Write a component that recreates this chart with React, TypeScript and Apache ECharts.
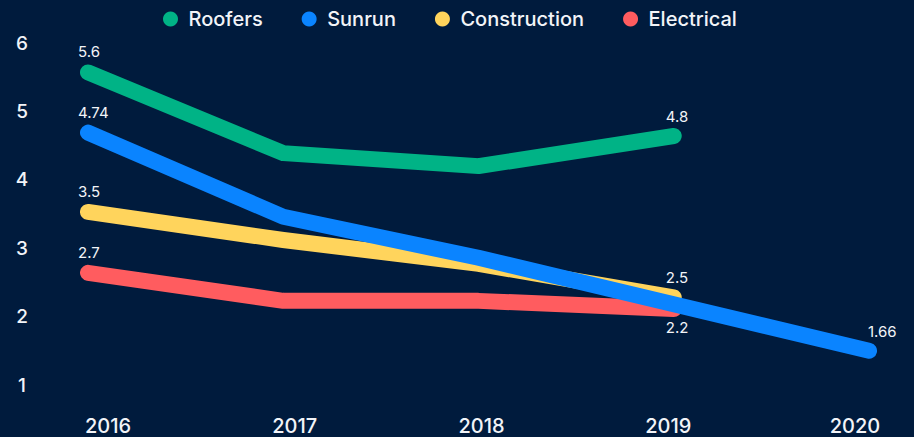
import React, { useEffect, useRef } from "react";
import * as echarts from "echarts";

const years = ["2016", "2017", "2018", "2019", "2020"];
const yTicks = [1, 2, 3, 4, 5, 6];

const roofers = [5.57, 4.39, 4.2, 4.64, null];
const sunrun = [4.69, 3.46, 2.86, 2.18, 1.5];
const construction = [3.53, 3.12, 2.77, 2.28, null];
const electrical = [2.64, 2.23, 2.23, 2.11, null];

const roofersLabels = ["5.6", "", "", "4.8", ""];
const sunrunLabels = ["4.74", "", "", "", "1.66"];
const constructionLabels = ["3.5", "", "", "2.5", ""];
const electricalLabels = ["2.7", "", "", "2.2", ""];

const FONT = "Inter, 'Noto Sans', sans-serif";
const TEXT = "#f2f4f8";

function buildData(values: (number | null)[], labels: string[], below: boolean[] = []) {
  return values.map((v, i) => {
    const txt = labels[i];
    if (!txt) return { value: v, label: { show: false } };
    const last = i > 0;
    return {
      value: v,
      label: {
        show: true,
        formatter: txt,
        position: below[i] ? "bottom" : "top",
        distance: below[i] ? 11 : last ? 12 : 13,
        align: "left",
        offset: [i === 0 ? -10 : i === 4 ? -1 : -8, 0],
        color: TEXT,
        fontSize: 15,
        fontFamily: FONT,
      },
    };
  });
}

export default function App() {
  const ref = useRef<HTMLDivElement>(null);
  useEffect(() => {
    if (!ref.current) return;
    const chart = echarts.init(ref.current, null, { renderer: "svg" });
    const lineSeries = (name: string, color: string, data: any[], z: number) => ({
      name,
      type: "line",
      data,
      xAxisIndex: 0,
      yAxisIndex: 0,
      z,
      symbol: "circle",
      symbolSize: 0,
      showSymbol: true,
      connectNulls: false,
      color,
      itemStyle: { color },
      lineStyle: { width: 16, color, cap: "round", join: "round" },
      emphasis: { disabled: true },
    });
    chart.setOption({
      animation: false,
      backgroundColor: "#001b3d",
      legend: {
        top: 4,
        left: 158,
        icon: "circle",
        itemWidth: 20,
        itemHeight: 15,
        itemGap: 39,
        data: ["Roofers", "Sunrun", "Construction", "Electrical"],
        textStyle: {
          color: TEXT,
          fontSize: 20,
          fontFamily: FONT,
          fontWeight: 500,
          padding: [0, 0, 0, 3],
        },
      },
      grid: [
        { left: 88, right: 45, top: 43, bottom: 52 },
        { left: 108, right: 59, top: 43, bottom: 52 },
      ],
      xAxis: [
        {
          type: "category",
          gridIndex: 0,
          data: years,
          boundaryGap: false,
          axisLine: { show: false },
          axisTick: { show: false },
          axisLabel: { show: false },
          splitLine: { show: false },
        },
        {
          type: "category",
          gridIndex: 1,
          data: years,
          boundaryGap: false,
          axisLine: { show: false },
          axisTick: { show: false },
          splitLine: { show: false },
          axisLabel: {
            color: TEXT,
            fontSize: 20,
            fontFamily: FONT,
            fontWeight: 500,
            margin: 31,
          },
        },
      ],
      yAxis: [
        {
          type: "value",
          gridIndex: 0,
          min: yTicks[0],
          max: yTicks[yTicks.length - 1],
          interval: 1,
          axisLine: { show: false },
          axisTick: { show: false },
          splitLine: { show: false },
          axisLabel: {
            color: TEXT,
            fontSize: 19,
            fontFamily: FONT,
            fontWeight: 500,
            align: "center",
            margin: 66,
          },
        },
        {
          type: "value",
          gridIndex: 1,
          min: 1,
          max: 6,
          show: false,
        },
      ],
      series: [
        lineSeries("Roofers", "#00b386", buildData(roofers, roofersLabels), 5),
        lineSeries("Sunrun", "#0a84ff", buildData(sunrun, sunrunLabels), 4),
        lineSeries("Construction", "#ffd45c", buildData(construction, constructionLabels), 3),
        lineSeries(
          "Electrical",
          "#ff5c5f",
          buildData(electrical, electricalLabels, [false, false, false, true, false]),
          2
        ),
      ],
    });
    return () => chart.dispose();
  }, []);
  return <div ref={ref} style={{ width: 914, height: 437, position: "absolute", left: 0, top: 0 }} />;
}
